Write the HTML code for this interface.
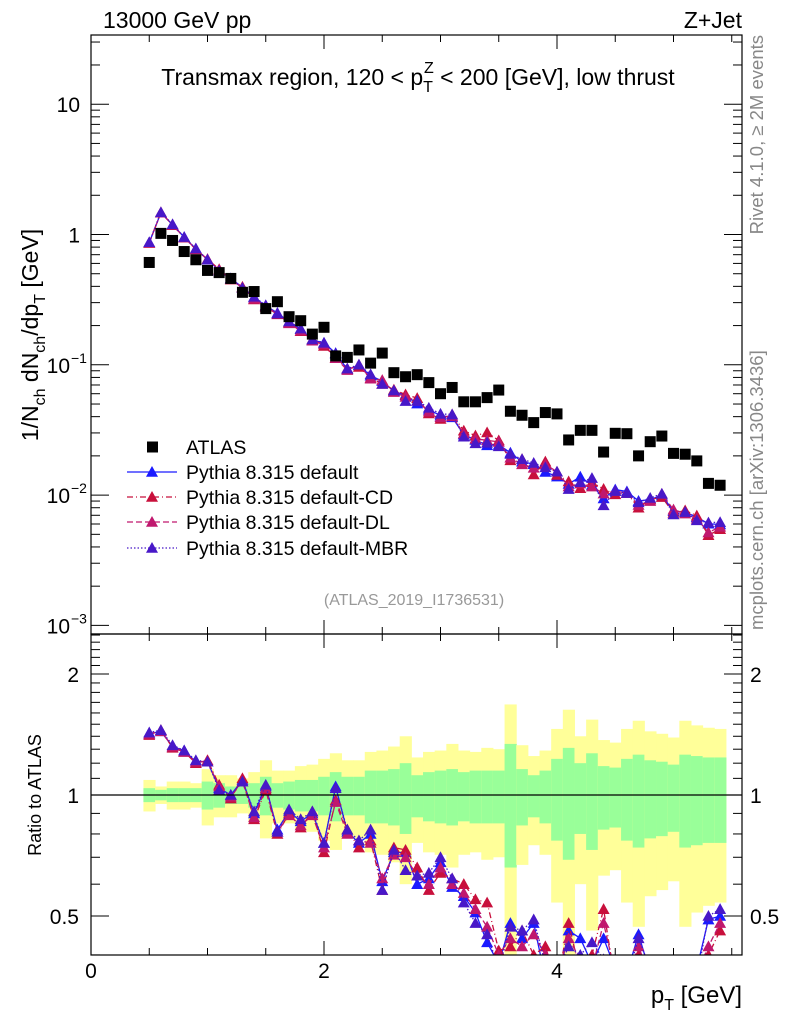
<!DOCTYPE html>
<html><head><meta charset="utf-8"><style>
body{margin:0;background:#fff}
svg{display:block;font-family:"Liberation Sans",sans-serif}
</style></head><body>
<svg id="c" width="786" height="1024" xmlns="http://www.w3.org/2000/svg">
<defs>
<clipPath id="cm"><rect x="91" y="35" width="651" height="599"/></clipPath>
<clipPath id="cr"><rect x="91" y="634" width="651" height="321"/></clipPath>
</defs>
<g id="bands" clip-path="url(#cr)"></g>
<g id="grid"></g>
<g id="mainMarks" clip-path="url(#cm)"></g>
<g id="ratioMarks" clip-path="url(#cr)"></g>
<rect x="91" y="35" width="651" height="599" fill="none" stroke="#000" stroke-width="1.2"/>
<rect x="91" y="634" width="651" height="321" fill="none" stroke="#000" stroke-width="1.2"/>
<line x1="91" y1="795" x2="742" y2="795" stroke="#000" stroke-width="1.2"/>
<text x="103" y="28" font-size="23">13000 GeV pp</text>
<text x="742" y="28" font-size="23" text-anchor="end">Z+Jet</text>
<text x="418" y="85" font-size="23" text-anchor="middle">Transmax region, 120 &lt; p<tspan font-size="16" dy="7">T</tspan><tspan font-size="16" dx="-9" dy="-19">Z</tspan><tspan dy="12"> &lt; 200 [GeV], low thrust</tspan></text>
<text transform="translate(38,335) rotate(-90)" font-size="23" text-anchor="middle">1/N<tspan font-size="16" dy="7">ch</tspan><tspan dy="-7"> dN</tspan><tspan font-size="16" dy="7">ch</tspan><tspan dy="-7">/dp</tspan><tspan font-size="16" dy="7">T</tspan><tspan dy="-7"> [GeV]</tspan></text>
<text transform="translate(41,795) rotate(-90)" font-size="18" text-anchor="middle">Ratio to ATLAS</text>
<text x="742" y="1003" font-size="24" text-anchor="end">p<tspan font-size="16" dy="7">T</tspan><tspan dy="-7"> [GeV]</tspan></text>
<text transform="translate(763,35) rotate(-90)" font-size="18.5" fill="#888" text-anchor="end">Rivet 4.1.0, ≥ 2M events</text>
<text transform="translate(763,630) rotate(-90)" font-size="18.5" fill="#888">mcplots.cern.ch [arXiv:1306.3436]</text>
<text x="414" y="605" font-size="16" fill="#999" text-anchor="middle">(ATLAS_2019_I1736531)</text>
<g id="legend"></g>
</svg>
<script>
const binCenters=[0.5,0.6,0.7,0.8,0.9,1.0,1.1,1.2,1.3,1.4,1.5,1.6,1.7,1.8,1.9,2.0,2.1,2.2,2.3,2.4,2.5,2.6,2.7,2.8,2.9,3.0,3.1,3.2,3.3,3.4,3.5,3.6,3.7,3.8,3.9,4.0,4.1,4.2,4.3,4.4,4.5,4.6,4.7,4.8,4.9,5.0,5.1,5.2,5.3,5.4];
const atlasValues=[0.61,1.02,0.90,0.74,0.64,0.53,0.51,0.46,0.36,0.365,0.27,0.305,0.234,0.218,0.172,0.194,0.117,0.114,0.130,0.103,0.123,0.087,0.081,0.084,0.073,0.060,0.067,0.052,0.052,0.056,0.064,0.044,0.041,0.036,0.043,0.042,0.0265,0.0314,0.0314,0.0214,0.0298,0.0296,0.020,0.0257,0.0284,0.0209,0.0206,0.0183,0.0123,0.0119];
const statErr=[0.04,0.03,0.04,0.04,0.04,0.08,0.07,0.05,0.05,0.07,0.11,0.07,0.08,0.09,0.09,0.11,0.14,0.11,0.11,0.15,0.15,0.16,0.20,0.12,0.14,0.15,0.16,0.14,0.15,0.15,0.15,0.34,0.16,0.12,0.15,0.23,0.31,0.20,0.27,0.18,0.17,0.23,0.26,0.22,0.21,0.19,0.26,0.25,0.24,0.24];
const totErr=[0.09,0.05,0.08,0.08,0.07,0.16,0.12,0.12,0.10,0.14,0.22,0.15,0.15,0.18,0.19,0.23,0.27,0.22,0.22,0.28,0.29,0.32,0.40,0.24,0.28,0.29,0.34,0.29,0.28,0.31,0.30,0.68,0.33,0.25,0.29,0.46,0.63,0.40,0.54,0.37,0.35,0.46,0.53,0.44,0.42,0.39,0.53,0.49,0.47,0.46];
const ratioDefault=[1.42,1.44,1.32,1.29,1.21,1.21,1.04,1.00,1.09,0.90,1.05,0.82,0.91,0.86,0.90,0.76,1.05,0.81,0.76,0.80,0.61,0.72,0.72,0.60,0.62,0.68,0.59,0.56,0.51,0.43,0.38,0.48,0.44,0.48,0.35,0.33,0.46,0.44,0.38,0.44,0.37,0.36,0.45,0.36,0.35,0.36,0.36,0.37,0.49,0.50];
const ratioCD=[1.41,1.45,1.31,1.28,1.20,1.22,1.06,0.98,1.10,0.87,1.03,0.80,0.90,0.83,0.91,0.72,0.97,0.82,0.74,0.77,0.58,0.74,0.73,0.66,0.58,0.64,0.62,0.60,0.55,0.54,0.41,0.42,0.46,0.40,0.42,0.34,0.48,0.36,0.40,0.52,0.34,0.35,0.40,0.36,0.34,0.35,0.37,0.38,0.40,0.46];
const ratioDL=[1.42,1.44,1.32,1.28,1.21,1.21,1.05,0.99,1.08,0.88,1.04,0.81,0.89,0.84,0.89,0.74,0.96,0.80,0.77,0.76,0.62,0.71,0.70,0.63,0.60,0.66,0.60,0.57,0.52,0.47,0.40,0.44,0.42,0.45,0.40,0.36,0.44,0.39,0.37,0.48,0.36,0.35,0.42,0.35,0.36,0.37,0.35,0.36,0.42,0.48];
const ratioMBR=[1.43,1.45,1.33,1.29,1.22,1.21,1.03,1.00,1.08,0.91,1.06,0.81,0.92,0.87,0.91,0.76,1.04,0.82,0.77,0.82,0.58,0.73,0.65,0.63,0.64,0.70,0.62,0.54,0.48,0.45,0.37,0.47,0.46,0.49,0.38,0.36,0.42,0.40,0.43,0.39,0.36,0.35,0.44,0.37,0.36,0.34,0.36,0.35,0.50,0.52];
const seriesNames=["Pythia 8.315 default","Pythia 8.315 default-CD","Pythia 8.315 default-DL","Pythia 8.315 default-MBR"];
const xTickLabels=["0","2","4"];
const ratioTickLabels=["0.5","1","2"];

const NS="http://www.w3.org/2000/svg";
const X=v=>91+116.5*v;
const YM=v=>234.5-130.3*Math.log10(v);
const YR=r=>795-121*Math.log2(r);
function el(tag,attrs,parent){const e=document.createElementNS(NS,tag);for(const k in attrs)e.setAttribute(k,attrs[k]);parent.appendChild(e);return e;}
const grid=document.getElementById('grid'),bands=document.getElementById('bands'),mm=document.getElementById('mainMarks'),rm=document.getElementById('ratioMarks'),lg=document.getElementById('legend');
const bw=0.1;
binCenters.forEach((c,i)=>{
 let r=el('rect',{x:X(c-bw/2),y:YR(1+totErr[i]),width:116.5*bw+0.5,height:YR(Math.max(1-totErr[i],0.3))-YR(1+totErr[i]),fill:'#ffff99'},bands);
 
 
 let g=el('rect',{x:X(c-bw/2),y:YR(1+statErr[i]),width:116.5*bw+0.5,height:YR(1-statErr[i])-YR(1+statErr[i]),fill:'#99ff99'},bands);
 
 
});
for(let v=0;v<=5.5;v+=0.5){
 const maj=Math.abs(v-Math.round(v/2)*2)<1e-6;const L=maj?14:7;
 [[634,-1],[955,-1],[35,1],[634,1]].forEach(([y,d])=>el('line',{x1:X(v),x2:X(v),y1:y,y2:y+d*L,stroke:'#000'},grid));
}
xTickLabels.forEach((t,i)=>{const e=el('text',{x:X(i*2),y:978,'font-size':21,'text-anchor':'middle'},grid);e.textContent=t;
 
 });
for(let d=-3;d<=1;d++){for(let m=1;m<=9;m++){const v=m*Math.pow(10,d);const y=YM(v);if(y<35||y>634)continue;const L=m==1?18:9;
 el('line',{x1:91,x2:91+L,y1:y,y2:y,stroke:'#000'},grid);el('line',{x1:742,x2:742-L,y1:y,y2:y,stroke:'#000'},grid);}}
[[10,"10",""],[1,"1",""],[0.1,"10","−1"],[0.01,"10","−2"],[0.001,"10","−3"]].forEach(([v,b,s])=>{
 const e=el('text',{x:s?70:80,y:YM(v)+8,'font-size':21,'text-anchor':'end'},grid);e.textContent=b;
 
 
 if(s){const t=el('text',{x:71,y:YM(v)-2,'font-size':14},grid);t.textContent=s;}
});
[0.4,0.5,0.6,0.7,0.8,0.9,1,1.5,2,2.5].forEach(v=>{const y=YR(v);if(y<634||y>955)return;const L=(v==0.5||v==1||v==2)?18:9;
 el('line',{x1:91,x2:91+L,y1:y,y2:y,stroke:'#000'},grid);el('line',{x1:742,x2:742-L,y1:y,y2:y,stroke:'#000'},grid);});
for(let v=1.1;v<2.5;v+=0.1){if(Math.abs(v-1.5)<0.01||Math.abs(v-2)<0.01)continue;const y=YR(v);el('line',{x1:91,x2:100,y1:y,y2:y,stroke:'#000'},grid);el('line',{x1:742,x2:733,y1:y,y2:y,stroke:'#000'},grid);}
ratioTickLabels.forEach(t=>{const v=parseFloat(t);
 const a=el('text',{x:79,y:YR(v)+8,'font-size':21,'text-anchor':'end'},grid);a.textContent=t;
 
 
 const b=el('text',{x:750,y:YR(v)+8,'font-size':21},grid);b.textContent=t;
 
 });
const ratios=[ratioDefault,ratioCD,ratioDL,ratioMBR];
const colors=['#1a1aff','#c8103c','#c0186e','#4818c8'];
const dashes=['none','6,3,1,3','6,3','1.5,2'];
function tri(x,y,c,p,name){const s=6;const t=el('polygon',{points:`${x},${y-s} ${x-s},${y+s*0.8} ${x+s},${y+s*0.8}`,fill:c},p);
 
 }
ratios.forEach((R,k)=>{
 const mainPts=binCenters.map((c,i)=>[X(c),YM(R[i]*atlasValues[i])]);
 const ratPts=binCenters.map((c,i)=>[X(c),YR(R[i])]);
 const l1=el('polyline',{points:mainPts.join(' '),fill:'none',stroke:colors[k],'stroke-width':1.3,'stroke-dasharray':dashes[k]},mm);
 
 
 const l2=el('polyline',{points:ratPts.join(' '),fill:'none',stroke:colors[k],'stroke-width':1.3,'stroke-dasharray':dashes[k]},rm);
 
 
 mainPts.forEach(p=>tri(p[0],p[1],colors[k],mm,'mc-point'));
 ratPts.forEach(p=>tri(p[0],p[1],colors[k],rm,'ratio-point'));
});
binCenters.forEach((c,i)=>{const s=el('rect',{x:X(c)-5.5,y:YM(atlasValues[i])-5.5,width:11,height:11,fill:'#000'},mm);
 
 });
const ly=[447,472,497,522,548];
el('rect',{x:147,y:ly[0]-5.5,width:11,height:11,fill:'#000'},lg);
const at=el('text',{x:186,y:ly[0]+7,'font-size':19.5},lg);at.textContent='ATLAS';


seriesNames.forEach((n,k)=>{const y=ly[k+1];
 el('line',{x1:127,x2:177,y1:y,y2:y,stroke:colors[k],'stroke-width':1.3,'stroke-dasharray':dashes[k]},lg);
 tri(152,y,colors[k],lg,'legend-marker');
 const t=el('text',{x:186,y:y+7,'font-size':19.5},lg);t.textContent=n;
 
 });
</script>
</body></html>
